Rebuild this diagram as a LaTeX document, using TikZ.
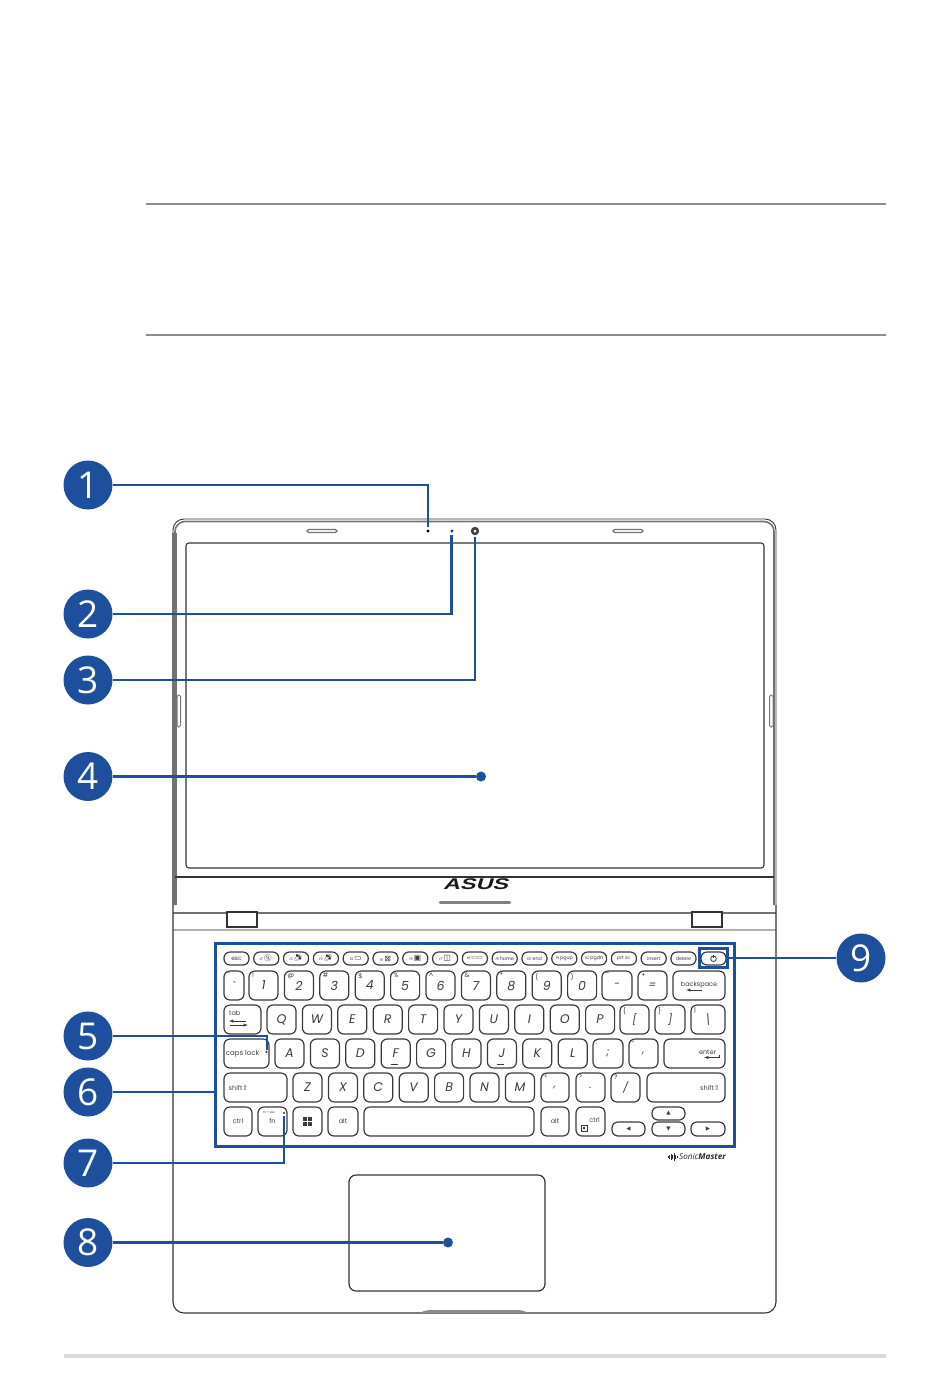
\documentclass[tikz,border=0pt]{standalone}
\usepackage{fontspec}
\setmainfont{Open Sans}
\newfontfamily\keyfont{Poppins}
\newfontfamily\symfont{DejaVu Sans}
\newfontfamily\emojifont{Noto Emoji}
\newfontfamily\logofont{Liberation Sans}[FakeSlant=0.3,FakeStretch=1.5]
\usepackage{xcolor}
\usetikzlibrary{calc}
\definecolor{callblue}{HTML}{1E4F9C}
\definecolor{linegray}{HTML}{3A3A3A}
\newcommand{\fs}[1]{\fontsize{#1}{#1}\selectfont}
\newcommand{\legmain}[1]{{\fs{12.5}\itshape #1}}
\newcommand{\legmark}[1]{{\fs{10.5}\itshape #1}}
\newcommand{\fkey}[1]{{\fs{3.6}\itshape f#1}\,}
\tikzset{
  keycap/.style={
    draw=linegray,
    line width=1.2pt,
    rounded corners=6pt,
    inner sep=0pt,
    font=\keyfont\fs{6.5}\color{linegray}},
  keysub/.style={
    inner sep=0pt,
    anchor=north west,
    font=\keyfont\fs{6.5}\color{linegray}},
  badge/.style={
    circle,
    fill=callblue,
    minimum size=49pt,
    inner sep=0pt,
    text=white,
    font=\fs{37}},
  leader/.style={
    draw=callblue,
    line width=2.8pt},
  target/.style={
    circle,
    fill=callblue,
    minimum size=10pt,
    inner sep=0pt},
  outline/.style={
    draw=black!80,
    line width=1.1pt},
  grayline/.style={
    draw=black!55,
    line width=1.8pt}
}
% name, x1, x2, y1, y2, legend
\newcommand{\keycap}[6]{%
  \node[keycap, minimum width={(#3-#2)*1pt}, minimum height={(#5-#4)*1pt}]
    (#1) at ({(#2+#3)/2},{(#4+#5)/2}) {#6};}
\newcommand{\keytag}[2]{%
  \node[keysub] (#1sub) at ($(#1.north west)+(3.5,2.5)$) {#2};}
\begin{document}
\begin{tikzpicture}[x=1pt,y=-1pt]
  \useasboundingbox (0,0) rectangle (950,1392);
  % page rules
  \draw[black!45, line width=1.2pt] (146,204) -- (886,204);
  \draw[black!45, line width=1.2pt] (146,335) -- (886,335);
  \draw[black!15, line width=3.5pt] (64,1356) -- (886,1356);

  % lid
  \draw[outline, line width=0.9pt, rounded corners=11pt]
    (173,905) -- (173,519) -- (776,519) -- (776,905);
  \draw[grayline, line width=1.6pt, rounded corners=10pt]
    (175,905) -- (175,521.5) -- (774,521.5) -- (774,905);
  \draw[grayline, line width=4.4pt] (174.6,533) -- (174.6,905);
  \draw[outline, rounded corners=3pt] (186,543) rectangle (764,868);
  \draw[outline] (175,877) -- (774,877);
  \draw[draw=black!55, line width=1.2pt, rounded corners=1.5pt] (307,529.5) rectangle (337,532.5);
  \draw[draw=black!55, line width=1.2pt, rounded corners=1.5pt] (613,529.5) rectangle (643,532.5);
  \draw[draw=black!55, line width=1pt, rounded corners=1.5pt] (177,695) rectangle (180.5,727);
  \draw[draw=black!55, line width=1pt, rounded corners=1.5pt] (769.5,695) rectangle (773,727);
  \fill[black] (428,531) circle (1.6);
  \fill[callblue!70!black] (452,531) circle (1.6);
  \fill[black!75] (475,531) circle (4.2);
  \fill[white] (475,531) circle (1.5);
  \node[inner sep=0pt, text=black!90, font=\logofont\bfseries\fs{15.5}] (logo) at (475.5,884) {ASUS};
  \draw[draw=black!50, line width=2.2pt, line cap=round] (440,902.5) -- (510,902.5);

  % base
  \draw[grayline, line width=1.6pt] (173,913) -- (776,913);
  \draw[draw=black!30, line width=1.6pt] (173,930) -- (776,930);
  \draw[outline, rounded corners=11pt] (173,905) -- (173,1313) -- (776,1313) -- (776,905);
  \draw[outline, fill=white, line width=1.3pt] (227,912) rectangle (257,927);
  \draw[outline, fill=white, line width=1.3pt] (692,912) rectangle (722,927);
  \draw[outline, rounded corners=7pt, line width=1.2pt] (349,1175) rectangle (545,1291);
  \fill[black!45] (420,1313) .. controls (425,1310) and (428,1310) .. (434,1310)
    -- (514,1310) .. controls (520,1310) and (523,1310) .. (528,1313) -- cycle;

  % function row
  \foreach \lg [count=\i from 0] in {{\fs{6}esc},
    {\fkey{1}{\emojifont\fs{7}🔇}}, {\fkey{2}{\emojifont\fs{7}🔉}}, {\fkey{3}{\emojifont\fs{7}🔊}},
    {\fkey{4}{\symfont\fs{8}▭}}, {\fkey{5}{\symfont\fs{8}⊠}}, {\fkey{6}{\symfont\fs{8}▣}},
    {\fkey{7}{\symfont\fs{8}◫}}, {\fkey{8}{\symfont\fs{6}▭▭}}, {\fkey{9}home}, {\fkey{10}end}, {\fkey{11}pgup},
    {\fkey{12}pgdn}, prt sc, insert, delete} {
    \pgfmathsetmacro\kx{224+29.8*\i}
    \keycap{top\i}{\kx}{\kx+25}{952}{965}{\fs{4.8}\lg}
  }
  \keycap{power}{701}{726}{952}{965}{}
  \draw[linegray, line width=0.8pt] (713.5,958.7) circle (2.8);
  \draw[linegray, line width=0.8pt] (713.5,954.5) -- (713.5,958);

  % number row
  \keycap{tilde}{224}{244}{971}{1000}{\raisebox{-3pt}{\legmark{\textasciigrave}}}
  \keytag{tilde}{\textasciitilde}
  \foreach \mn/\sb [count=\i from 0] in {1/!,2/@,3/\#,4/\$,5/\%,6/\textasciicircum,7/\&,8/*,9/(,0/)} {
    \pgfmathsetmacro\kx{249+35.4*\i}
    \keycap{num\i}{\kx}{\kx+29}{971}{1000}{\legmain{\mn}}
    \keytag{num\i}{\sb}
  }
  \keycap{minus}{602}{632}{971}{1000}{\legmark{-}}
  \keytag{minus}{\textendash}
  \keycap{equal}{638}{667}{971}{1000}{\legmark{=}}
  \keytag{equal}{+}
  \keycap{backspace}{673}{725}{971}{1000}{\raisebox{2pt}{\fs{6.5}backspace}}
  \draw[-latex, linegray, line width=0.5pt] (702,990) -- (686,990);

  % qwerty row
  \keycap{tabkey}{224}{261}{1005}{1034}{}
  \node[keysub] (tablabel) at (229,1010) {tab};
  \draw[-latex, linegray, line width=0.5pt] (246,1021) -- (229,1021);
  \draw[-latex, linegray, line width=0.5pt] (230,1025) -- (248,1025);
  \foreach \mn [count=\i from 0] in {Q,W,E,R,T,Y,U,I,O,P} {
    \pgfmathsetmacro\kx{267+35.4*\i}
    \keycap{up\i}{\kx}{\kx+29}{1005}{1034}{\legmain{\mn}}
  }
  \keycap{lbrack}{620}{649}{1005}{1034}{\legmark{[}}
  \keytag{lbrack}{\{}
  \keycap{rbrack}{655}{685}{1005}{1034}{\legmark{]}}
  \keytag{rbrack}{\}}
  \keycap{bslash}{691}{725}{1005}{1034}{\legmark{\textbackslash}}
  \keytag{bslash}{|}

  % home row
  \keycap{caps}{224}{269}{1039}{1068}{\hspace{-8pt}\fs{7}caps lock}
  \fill[black!80] (266.5,1052) circle (1.1);
  \foreach \mn [count=\i from 0] in {A,S,D,F,G,H,J,K,L} {
    \pgfmathsetmacro\kx{275+35.4*\i}
    \keycap{mid\i}{\kx}{\kx+29}{1039}{1068}{\legmain{\mn}}
  }
  \draw[linegray, line width=1pt] ($(mid3.south)+(-5,-4.5)$) -- ($(mid3.south)+(2,-4.5)$);
  \draw[linegray, line width=1pt] ($(mid6.south)+(-5,-4.5)$) -- ($(mid6.south)+(2,-4.5)$);
  \keycap{semi}{593}{623}{1039}{1068}{\legmark{;}}
  \keytag{semi}{:}
  \keycap{quote}{629}{658}{1039}{1068}{\legmark{,}}
  \keytag{quote}{"}
  \keycap{enter}{664}{725}{1039}{1068}{\hspace{26pt}\raisebox{3pt}{\fs{6.5}enter}}
  \draw[-latex, linegray, line width=0.5pt] (719,1055) |- (704,1057.5);

  % shift row
  \keycap{lshift}{224}{287}{1073}{1102}{\hspace{-34pt}\fs{6.5}shift{\symfont\fs{7}⇧}}
  \foreach \mn [count=\i from 0] in {Z,X,C,V,B,N,M} {
    \pgfmathsetmacro\kx{293+35.4*\i}
    \keycap{low\i}{\kx}{\kx+29}{1073}{1102}{\legmain{\mn}}
  }
  \keycap{comma}{541}{569}{1073}{1102}{\legmark{,}}
  \keytag{comma}{<}
  \keycap{period}{576}{605}{1073}{1102}{\legmark{.}}
  \keytag{period}{>}
  \keycap{slash}{611}{640}{1073}{1102}{\legmark{/}}
  \keytag{slash}{?}
  \keycap{rshift}{647}{725}{1073}{1102}{\hspace{48pt}\fs{6.5}shift{\symfont\fs{7}⇧}}

  % bottom row
  \keycap{lctrl}{224}{252}{1107}{1136}{\fs{6.5}ctrl}
  \keycap{fnkey}{258}{287}{1107}{1136}{\raisebox{-2pt}{\fs{6.5}fn}}
  \node[keysub, font=\keyfont\fs{3}\color{linegray}] (fntag) at (263,1111) {fn + esc};
  \fill[black!80] (284,1113) circle (1.1);
  \keycap{winkey}{293}{322}{1107}{1136}{}
  \foreach \dx in {-4.6,0.6} \foreach \dy in {-4.6,0.6} {
    \fill[linegray] ($(winkey)+(\dx,\dy)$) rectangle ++(4,4);
  }
  \keycap{lalt}{328}{358}{1107}{1136}{\fs{6.5}alt}
  \keycap{space}{364}{534}{1107}{1136}{}
  \keycap{ralt}{541}{569}{1107}{1136}{\fs{6.5}alt}
  \keycap{rctrl}{576}{605}{1107}{1136}{\hspace{8pt}\raisebox{2pt}{\fs{6.5}ctrl}}
  \draw[linegray, line width=0.6pt] (581,1125) rectangle (587,1131);
  \fill[linegray] (583,1127) rectangle (585,1129);
  \keycap{kleft}{612}{645}{1122}{1136}{{\symfont\fs{5.5}◀}}
  \keycap{kup}{652}{685}{1107}{1120}{{\symfont\fs{5.5}▲}}
  \keycap{kdown}{652}{685}{1122}{1136}{{\symfont\fs{5.5}▼}}
  \keycap{kright}{691}{725}{1122}{1136}{{\symfont\fs{5.5}▶}}

  % sonic master mark
  \foreach \bx/\bh in {668/2,669.5/4,671/6,672.5/4,674/8,675.5/4,677/2} {
    \draw[black!80, line width=0.5pt] (\bx,1157-\bh/2) -- (\bx,1157+\bh/2);
  }
  \node[inner sep=0pt, anchor=east, text=black!85, font=\fs{8.2}\itshape] (sonic) at (726,1157)
    {Sonic\textbf{Master}};

  % callouts
  \node[draw=callblue, line width=3pt, minimum width=519pt, minimum height=203pt, inner sep=0pt]
    (kbframe) at (474.5,1044.5) {};
  \node[draw=callblue, line width=3pt, minimum width=28pt, minimum height=19pt, inner sep=0pt]
    (powerbox) at (713,958) {};
  \coordinate (mic) at (428,527);
  \coordinate (led) at (451.7,535);
  \coordinate (cam) at (475,537);
  \coordinate (capsled) at (267,1050);
  \coordinate (fnled) at (284,1116);
  \node[target] (screen) at (481,776.5) {};
  \node[target] (pad) at (448,1242.5) {};
  \node[badge] (n1) at (88,485) {\raisebox{-1.5pt}{1}};
  \node[badge] (n2) at (88,614) {\raisebox{-1.5pt}{2}};
  \node[badge] (n3) at (88,680) {\raisebox{-1.5pt}{3}};
  \node[badge] (n4) at (88,776.5) {\raisebox{-1.5pt}{4}};
  \node[badge] (n5) at (88,1036) {\raisebox{-1.5pt}{5}};
  \node[badge] (n6) at (88,1092) {\raisebox{-1.5pt}{6}};
  \node[badge] (n7) at (88,1163) {\raisebox{-1.5pt}{7}};
  \node[badge] (n8) at (88,1242.5) {\raisebox{-1.5pt}{8}};
  \node[badge] (n9) at (861,958) {\raisebox{-1.5pt}{9}};
  \draw[leader] (n1) -| (mic);
  \draw[leader] (n2) -| (led);
  \draw[leader] (n3) -| (cam);
  \draw[leader] (n4) -- (screen);
  \draw[leader] (n5) -| (capsled);
  \draw[leader] (n6) -- (n6 -| kbframe.west);
  \draw[leader] (n7) -| (fnled);
  \draw[leader] (n8) -- (pad);
  \draw[leader] (n9) -- (powerbox);
\end{tikzpicture}
\end{document}
